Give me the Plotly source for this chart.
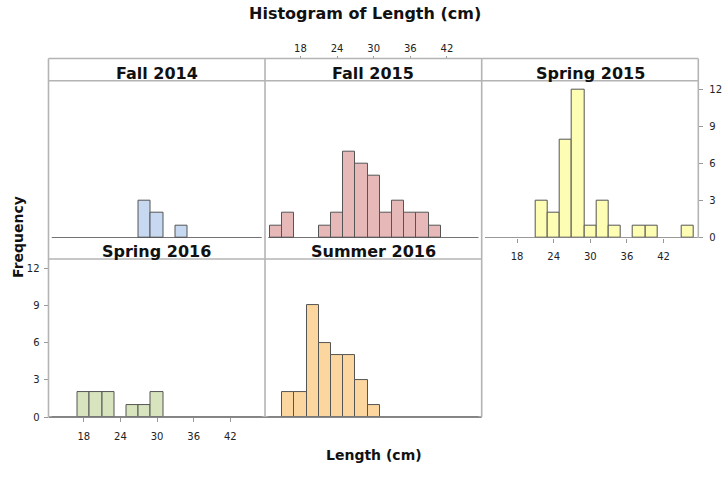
import plotly.graph_objects as go

# ---------------- data ----------------
bin_centers = [14, 16, 18, 20, 22, 24, 26, 28, 30, 32, 34, 36, 38, 40, 42, 44, 46]
fall_2014   = [0, 0, 0, 0, 0, 0, 0, 3, 2, 0, 1, 0, 0, 0, 0, 0, 0]
fall_2015   = [1, 2, 0, 0, 1, 2, 7, 6, 5, 2, 3, 2, 2, 1, 0, 0, 0]
spring_2015 = [0, 0, 0, 0, 3, 2, 8, 12, 1, 3, 1, 0, 1, 1, 0, 0, 1]
spring_2016 = [0, 0, 2, 2, 2, 0, 1, 1, 2, 0, 0, 0, 0, 0, 0, 0, 0]
summer_2016 = [0, 2, 2, 9, 6, 5, 5, 3, 1, 0, 0, 0, 0, 0, 0, 0, 0]
panel_names = ["Fall 2014", "Fall 2015", "Spring 2015", "Spring 2016", "Summer 2016"]
x_ticks = [18, 24, 30, 36, 42]
y_ticks = [0, 3, 6, 9, 12]
bin_width = 2

# ---------------- layout helpers ----------------
W, H = 722, 486
def px(x): return x / W
def py(y): return 1 - y / H

cols = [(48.5, 265.0), (265.0, 481.7), (481.7, 698.3)]
rows = [(81.7, 240.7), (262.3, 422.3)]
strips = [(59.3, 81.7), (240.7, 262.3)]
X_RANGE = [12.2, 47.7]
Y_RANGE = [0, 12.75]

colors = ["#c6d9f1", "#e6b9b8", "#fdfdb3", "#d7e4bd", "#fbd69e"]
series = [fall_2014, fall_2015, spring_2015, spring_2016, summer_2016]
positions = [(0, 0), (0, 1), (0, 2), (1, 0), (1, 1)]

FONT = "DejaVu Sans"
fig = go.Figure()
layout = dict(
    width=W, height=H, margin=dict(l=0, r=0, t=0, b=0),
    paper_bgcolor="white", plot_bgcolor="rgba(0,0,0,0)",
    showlegend=False, bargap=0, font=dict(family=FONT, color="#222"),
)

shapes = []
annotations = []
GRAY = "#b4b4b4"

def axname(letter, idx):
    return letter if idx == 1 else f"{letter}{idx}"

for i, (name, vals, col, (r, c)) in enumerate(zip(panel_names, series, colors, positions)):
    idx = i + 1
    xs = [b for b, v in zip(bin_centers, vals) if v > 0]
    ys = [v for v in vals if v > 0]
    fig.add_trace(go.Bar(
        x=xs, y=ys, width=bin_width, xaxis=axname("x", idx), yaxis=axname("y", idx),
        marker=dict(color=col, line=dict(color="#555555", width=1)),
        hoverinfo="x+y",
    ))
    c0, c1 = cols[c]
    r0, r1 = rows[r]
    xa = dict(domain=[px(c0), px(c1)], anchor=axname("y", idx), range=X_RANGE,
              showgrid=False, zeroline=False, showline=False, ticks="",
              showticklabels=False, tickvals=x_ticks,
              tickfont=dict(size=10, color="#222", family=FONT))
    ya = dict(domain=[py(r1), py(r0)], anchor=axname("x", idx), range=Y_RANGE,
              showgrid=False, zeroline=False, showline=False, ticks="",
              showticklabels=False, tickvals=y_ticks,
              tickfont=dict(size=10, color="#222", family=FONT))
    layout["xaxis" if idx == 1 else f"xaxis{idx}"] = xa
    layout["yaxis" if idx == 1 else f"yaxis{idx}"] = ya

    # strip label
    s0, s1 = strips[r]
    annotations.append(dict(
        text=f"<b>{name}</b>", x=px((c0 + c1) / 2), y=py(s1 - 7.5),
        xref="paper", yref="paper", showarrow=False,
        font=dict(size=16, color="#111", family=FONT),
        xanchor="center", yanchor="middle",
    ))
    # baseline
    shapes.append(dict(type="line", xref=f"{axname('x', idx)} domain", yref=axname("y", idx),
                       x0=0.015, x1=1.0 if idx == 3 else 0.985, y0=0, y1=0,
                       line=dict(color="#444" if idx != 3 else "#777", width=1.6)))

# axes with labels
layout["xaxis2"].update(anchor="free", position=py(59.3), side="top", showticklabels=True,
                        ticks="outside", ticklen=3, tickcolor="#999")
layout["xaxis3"].update(showticklabels=True, ticks="outside", ticklen=4, tickcolor="#999",
                        ticklabelstandoff=5)
layout["yaxis3"].update(side="right", showticklabels=True, ticks="outside", ticklen=4,
                        tickcolor="#999", ticklabelstandoff=4)
layout["xaxis4"].update(showticklabels=True, ticks="outside", ticklen=4, tickcolor="#999",
                        ticklabelstandoff=6)
layout["yaxis4"].update(side="left", showticklabels=True, ticks="outside", ticklen=4,
                        tickcolor="#999", ticklabelstandoff=2)

# frames
def hline(y, x0, x1, color=GRAY, w=1.6):
    shapes.append(dict(type="line", xref="paper", yref="paper", x0=px(x0), x1=px(x1),
                       y0=py(y), y1=py(y), line=dict(color=color, width=w)))
def vline(x, y0, y1, color=GRAY, w=1.6):
    shapes.append(dict(type="line", xref="paper", yref="paper", x0=px(x), x1=px(x),
                       y0=py(y0), y1=py(y1), line=dict(color=color, width=w)))

hline(59.3, 48.5, 698.3)
hline(81.7, 48.5, 698.3)
hline(262.3, 48.5, 481.7)
hline(422.3, 48.5, 481.7, color="#888")
vline(48.5, 59.3, 422.3)
vline(265.0, 59.3, 422.3)
vline(481.7, 59.3, 422.3)
vline(698.3, 59.3, 240.7)

# titles
annotations.append(dict(text="<b>Histogram of Length (cm)</b>", x=px(365), y=py(14),
                        xref="paper", yref="paper", showarrow=False,
                        xanchor="center", yanchor="middle",
                        font=dict(size=16, color="#111", family=FONT)))
annotations.append(dict(text="<b>Frequency</b>", x=px(18), y=py(240), textangle=-90,
                        xref="paper", yref="paper", showarrow=False,
                        xanchor="center", yanchor="middle",
                        font=dict(size=14, color="#111", family=FONT)))
annotations.append(dict(text="<b>Length (cm)</b>", x=px(374), y=py(461),
                        xref="paper", yref="paper", showarrow=False,
                        xanchor="center", yanchor="middle",
                        font=dict(size=14, color="#111", family=FONT)))

layout["shapes"] = shapes
layout["annotations"] = annotations
fig.update_layout(**layout)
fig.write_html("out.html")
